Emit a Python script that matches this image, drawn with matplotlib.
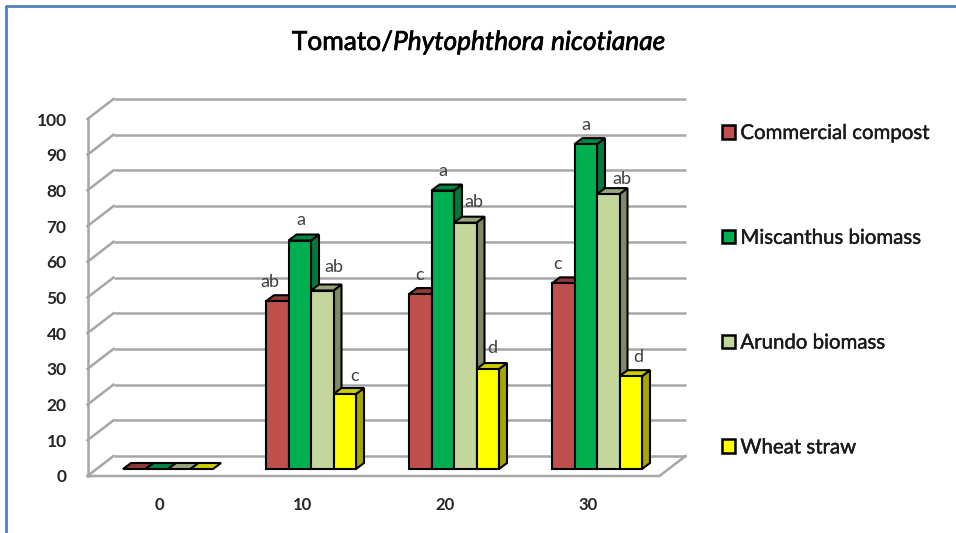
import numpy as np
import matplotlib
matplotlib.use("Agg")
import matplotlib.pyplot as plt
import matplotlib.patheffects as pe
from matplotlib.lines import Line2D
from matplotlib.patches import Patch, Polygon

plt.rcParams['font.family'] = ['Lato', 'DejaVu Sans']
plt.rcParams['mathtext.fontset'] = 'custom'
plt.rcParams['mathtext.it'] = 'Lato:italic'
plt.rcParams['mathtext.rm'] = 'Lato'

days = ["0", "10", "20", "30"]
names = ["Commercial compost", "Miscanthus biomass", "Arundo biomass", "Wheat straw"]
compost = [0, 47, 49, 52]
miscanthus = [0, 64, 78, 91]
arundo = [0, 50, 69, 77]
wheat = [0, 21, 28, 26]
compost_let = ["", "ab", "c", "c"]
miscanthus_let = ["", "a", "a", "a"]
arundo_let = ["", "ab", "ab", "ab"]
wheat_let = ["", "c", "d", "d"]

series = [compost, miscanthus, arundo, wheat]
letters = [compost_let, miscanthus_let, arundo_let, wheat_let]
front = ["#c0504d", "#00b050", "#c3d69b", "#ffff00"]
top = ["#8f3a38", "#008542", "#98a67a", "#cccc00"]
side = ["#8f3a38", "#007a3a", "#7f8b62", "#a6a600"]

W, H = 956, 533
fig = plt.figure(figsize=(W / 100, H / 100), dpi=100)
ax = fig.add_axes([87.5 / W, 1 - 476 / H, 572 / W, 357 / H])
ax.set_xlim(-0.5, 3.5)
ax.set_ylim(0, 100)

# pixel -> data sizes
px = 4 / 572
py = 100 / 357
wall_x, wall_y = 26 * px, 20 * py
dep_x, dep_y = 8 * px, 6 * py
bw = 22.5 * px
base = 7 * py
shift = 9 * px

# walls and floor
grid = "#a6a6a6"
ticks = np.arange(0, 101, 10)
ax.hlines(ticks + wall_y, -0.5 + wall_x, 3.5 + wall_x, color=grid, lw=1.8, clip_on=False, zorder=1)
for t in ticks:
    ax.plot([-0.5, -0.5 + wall_x], [t, t + wall_y], color=grid, lw=1.8, clip_on=False, zorder=1)
ax.plot([-0.5, -0.5], [0, 100], color=grid, lw=1.8, clip_on=False, zorder=1)
ax.plot([-0.5, 3.5, 3.5 + wall_x], [0, 0, wall_y], color=grid, lw=1.8, clip_on=False, zorder=1)

# bars, left to right so the next front face hides the previous side
z = 2
for i in range(len(days)):
    for j in range(4):
        v = series[j][i]
        x0 = i + shift + (j - 2) * bw
        x1 = x0 + bw
        y1 = base + v
        if v > 0:
            ax.add_patch(Polygon([(x1, base), (x1 + dep_x, base + dep_y), (x1 + dep_x, y1 + dep_y), (x1, y1)],
                                 fc=side[j], ec="black", lw=1.5, zorder=z, clip_on=False))
        ax.add_patch(Polygon([(x0, y1), (x0 + dep_x, y1 + dep_y), (x1 + dep_x, y1 + dep_y), (x1, y1)],
                             fc=top[j], ec="black", lw=1.5, zorder=z, clip_on=False))
        if v > 0:
            ax.bar(x0, v, bw, bottom=base, align="edge", color=front[j], edgecolor="black", lw=1.5, zorder=z)
        z += 1

# letters sit a bit off the bars, offsets in pixels from the bar centre
let_dx = [[0, -7, -1, -6], [0, 1, 0, 0], [0, 12, 9, 14], [0, 10, 5, 8]]
let_dy = [[0, 19, 19, 19], [0, 21, 20, 19], [0, 24, 21, 15], [0, 18, 21, 19]]
for j in range(4):
    for i in range(len(days)):
        if letters[j][i]:
            ax.text(i + shift + (j - 1.5) * bw + let_dx[j][i] * px, base + series[j][i] + let_dy[j][i] * py,
                    letters[j][i], ha="center", va="center", fontsize=13, color="#404040", zorder=50)

for s in ax.spines.values():
    s.set_visible(False)
ax.patch.set_visible(False)
ax.set_xticks(range(len(days)))
ax.set_xticklabels(days, fontsize=12, fontweight="bold", color="#262626")
ax.set_yticks(ticks)
ax.set_yticklabels([str(t) for t in ticks], fontsize=12.5, fontweight="bold", color="#262626")
ax.tick_params(axis="both", length=0)
ax.tick_params(axis="x", pad=15)
ax.tick_params(axis="y", pad=15)

fig.text(479 / W, 1 - 42 / H, r"Tomato/$\mathit{Phytophthora\ nicotianae}$", ha="center", va="center",
         fontsize=18.9, color="black", path_effects=[pe.withStroke(linewidth=0.5, foreground="black")])

handles = [Patch(fc=c, ec="black", lw=1.8) for c in front]
leg = fig.legend(handles, names, loc="upper left", bbox_to_anchor=(722 / W, 1 - 125 / H), frameon=False,
                 fontsize=14.7, handlelength=0.65, handleheight=0.65, handletextpad=0.25,
                 labelspacing=4.3, labelcolor="#1a1a1a", borderpad=0, borderaxespad=0)
for t in leg.get_texts():
    t.set_path_effects([pe.withStroke(linewidth=0.3, foreground="#1a1a1a")])

# blue frame round the picture, open at the bottom
fig.add_artist(Line2D([5.5 / W, 5.5 / W, 1], [0, 1 - 5.5 / H, 1 - 5.5 / H], color="#4f81bd", lw=2,
                      transform=fig.transFigure))

plt.savefig("out.png", dpi=100)
